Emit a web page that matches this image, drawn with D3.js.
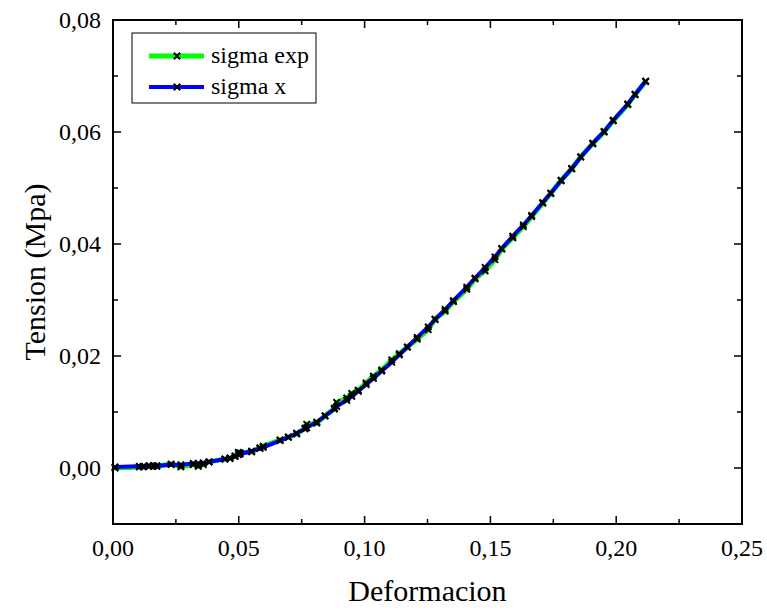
<!DOCTYPE html>
<html><head><meta charset="utf-8">
<script src="https://cdn.jsdelivr.net/npm/d3@7"></script>
<style>body{margin:0;background:#fff}svg{display:block}</style>
</head><body><svg id="c" width="767" height="610" font-family="Liberation Serif, Times New Roman, serif"></svg>
<script>
const strain = [0.0008,0.0105,0.0120,0.0144,0.0160,0.0174,0.0231,0.0270,0.0319,0.0339,0.0359,0.0382,0.0445,0.0465,0.0485,0.0498,0.0505,0.0551,0.0584,0.0597,0.0664,0.0697,0.0730,0.0763,0.0770,0.0810,0.0843,0.0880,0.0889,0.0929,0.0949,0.0975,0.1006,0.1035,0.1068,0.1108,0.1138,0.1170,0.1209,0.1253,0.1280,0.1320,0.1353,0.1406,0.1439,0.1479,0.1518,0.1545,0.1589,0.1631,0.1664,0.1708,0.1740,0.1781,0.1823,0.1859,0.1907,0.1952,0.1988,0.2046,0.2075,0.2117];
const sigmaExp = [0.0000,0.0002,0.0002,0.0003,0.0003,0.0003,0.0007,0.0002,0.0006,0.0003,0.0006,0.0011,0.0016,0.0017,0.0021,0.0028,0.0027,0.0029,0.0036,0.0039,0.0050,0.0055,0.0061,0.0071,0.0078,0.0080,0.0093,0.0107,0.0117,0.0125,0.0133,0.0139,0.0152,0.0164,0.0175,0.0193,0.0204,0.0216,0.0230,0.0247,0.0266,0.0280,0.0297,0.0319,0.0338,0.0352,0.0372,0.0391,0.0411,0.0431,0.0449,0.0473,0.0490,0.0514,0.0534,0.0556,0.0579,0.0600,0.0620,0.0649,0.0667,0.0690];
const sigmaX = [0.0002,0.0003,0.0003,0.0004,0.0004,0.0004,0.0006,0.0006,0.0008,0.0008,0.0009,0.0011,0.0016,0.0018,0.0021,0.0024,0.0025,0.0030,0.0035,0.0037,0.0049,0.0055,0.0062,0.0070,0.0072,0.0082,0.0093,0.0105,0.0110,0.0121,0.0128,0.0137,0.0149,0.0160,0.0173,0.0189,0.0202,0.0216,0.0233,0.0252,0.0265,0.0283,0.0299,0.0323,0.0339,0.0358,0.0377,0.0392,0.0414,0.0434,0.0451,0.0474,0.0491,0.0513,0.0535,0.0555,0.0580,0.0601,0.0621,0.0650,0.0667,0.0691];
const xTicks = [0,0.05,0.10,0.15,0.20,0.25];
const yTicks = [0,0.02,0.04,0.06,0.08];
const seriesNames = ["sigma exp","sigma x"];
const seriesColors = ["#00ff00","#0000ff"];

const FONT = "'Liberation Serif', 'Times New Roman', Times, serif";
const svg = d3.select("#c");
const L=113,R=742,T=20,B=524;
const x = d3.scaleLinear().domain([0,0.25]).range([L,R]);
const y = d3.scaleLinear().domain([-0.01,0.08]).range([B,T]);
const fmt = d => d3.format(".2f")(d).replace(".",",");

const xMinor = d3.range(0,0.2501,0.025);
const yMinor = d3.range(-0.01,0.0801,0.01);
const tg = svg.append("g").attr("stroke","#000").attr("stroke-width",1.5);
xMinor.forEach(v=>{
  const major = Math.abs(Math.round(v/0.05)*0.05 - v) < 1e-6;
  const len = major?8:5;
  tg.append("line").attr("x1",x(v)).attr("x2",x(v)).attr("y1",B).attr("y2",B-len);
  tg.append("line").attr("x1",x(v)).attr("x2",x(v)).attr("y1",T).attr("y2",T+len);
});
yMinor.forEach(v=>{
  const major = Math.abs(Math.round(v/0.02)*0.02 - v) < 1e-6;
  const len = major?8:5;
  tg.append("line").attr("x1",L).attr("x2",L+len).attr("y1",y(v)).attr("y2",y(v));
  tg.append("line").attr("x1",R).attr("x2",R-len).attr("y1",y(v)).attr("y2",y(v));
});
svg.append("rect").attr("x",L).attr("y",T).attr("width",R-L).attr("height",B-T)
  .attr("fill","none").attr("stroke","#000").attr("stroke-width",2);

svg.append("g").selectAll("text").data(xTicks).join("text")
  .attr("x",d=>x(d)).attr("y",B+32).attr("text-anchor","middle")
  .attr("font-family",FONT).attr("font-size",24).text(fmt);
svg.append("g").selectAll("text").data(yTicks).join("text")
  .attr("x",L-12).attr("y",d=>y(d)+8).attr("text-anchor","end")
  .attr("font-family",FONT).attr("font-size",24).text(fmt);

svg.append("text").attr("x",(L+R)/2).attr("y",601).attr("text-anchor","middle")
  .attr("font-family",FONT).attr("font-size",30).text("Deformacion");
svg.append("text").attr("transform",`translate(45,${(T+B)/2}) rotate(-90)`)
  .attr("text-anchor","middle").attr("font-family",FONT).attr("font-size",30).text("Tension (Mpa)");

const plot = svg.append("g");
const data = [sigmaExp, sigmaX];
const widths = [5,4];
function cross(g, cx, cy){
  const s=3.2;
  g.append("path").attr("d",`M${cx-s},${cy-s}L${cx+s},${cy+s}M${cx-s},${cy+s}L${cx+s},${cy-s}`)
    .attr("stroke","#000").attr("stroke-width",2).attr("fill","none");
}
data.forEach((vals,i)=>{
  const pts = strain.map((s,j)=>[s,vals[j]]);
  plot.append("path").datum(pts)
    .attr("d",d3.line().x(d=>x(d[0])).y(d=>y(d[1])))
    .attr("fill","none").attr("stroke",seriesColors[i]).attr("stroke-width",widths[i])
    .attr("stroke-linejoin","round");
});
data.forEach((vals,i)=>{
  const mg = plot.append("g");
  strain.forEach((s,j)=>cross(mg, x(s), y(vals[j])));
});

const lg = svg.append("g");
lg.append("rect").attr("x",132).attr("y",33).attr("width",184).attr("height",70)
  .attr("fill","#fff").attr("stroke","#000").attr("stroke-width",1);
seriesNames.forEach((n,i)=>{
  const yy = 56 + i*31;
  lg.append("line").attr("x1",149).attr("x2",204).attr("y1",yy).attr("y2",yy)
    .attr("stroke",seriesColors[i]).attr("stroke-width",widths[i]);
  cross(lg,177,yy);
  lg.append("text").attr("x",211).attr("y",yy+7).attr("font-family",FONT).attr("font-size",24).text(n);
});
</script></body></html>
